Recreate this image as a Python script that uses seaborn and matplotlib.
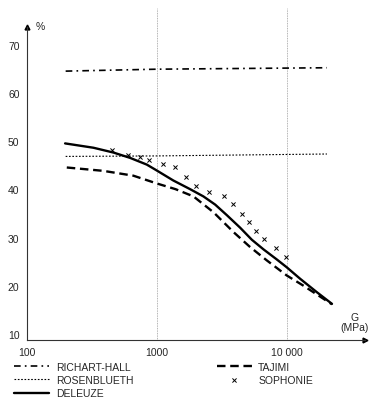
import matplotlib
matplotlib.use("Agg")
import matplotlib.pyplot as plt
import seaborn as sns
import numpy as np

sns.set_style("white")
plt.rcParams['font.family'] = ['Liberation Sans', 'DejaVu Sans']
plt.rcParams['font.size'] = 7.5

# --- data (G in MPa, value in %) ---
richart_g = [200, 1000, 20400]
richart_v = [65.8, 66.2, 66.5]

rosen_g = [200, 1000, 20400]
rosen_v = [48.1, 48.2, 48.6]

deleuze_g = [198, 327, 466, 625, 841, 1000, 1345, 1811, 2290, 2820, 3470, 4390,
             5400, 6640, 8410, 10000, 12700, 17100, 22300]
deleuze_v = [50.8, 49.9, 48.9, 47.8, 46.4, 45.2, 43.1, 41.3, 39.8, 38.1, 35.9, 33.3,
             30.8, 28.8, 26.7, 25.1, 22.7, 19.9, 17.5]

tajimi_g = [204, 390, 663, 1000, 1400, 1920, 2740, 3900, 5230, 7050, 10000, 13400, 22300]
tajimi_v = [45.8, 45.1, 44.1, 42.5, 41.3, 39.8, 36.5, 32.4, 29.3, 26.5, 23.4, 21.3, 17.4]

sophonie_g = [452, 607, 748, 880, 1120, 1380, 1690, 2020, 2540, 3270, 3900, 4520,
              5170, 5830, 6700, 8310, 9900]
sophonie_v = [49.5, 48.4, 47.9, 47.3, 46.6, 45.8, 43.75, 42.0, 40.8, 39.8, 38.2, 36.1,
              34.4, 32.7, 31.0, 29.05, 27.3]

x_ticks = [100, 1000, 10000]
x_labels = ['100', '1000', '10 000']
y_ticks = [10, 20, 30, 40, 50, 60, 70]

fig = plt.figure(figsize=(3.75, 4.02), dpi=100)
ax = fig.add_axes([26.5 / 375, 61 / 402, 338.5 / 375, 332 / 402])
ax.set_xscale('log')

# grid lines at 1000 and 10 000
for g in [1000, 10000]:
    ax.axvline(g, color='#9a9a9a', lw=0.6, ls=(0, (1, 1)), zorder=0)

sns.lineplot(x=richart_g, y=richart_v, ax=ax, color='k', lw=1.2,
             linestyle=(0, (4, 2.5, 1, 2.5)), label='RICHART-HALL')
sns.lineplot(x=rosen_g, y=rosen_v, ax=ax, color='k', lw=0.8,
             linestyle=(0, (1.5, 1.5)), label='ROSENBLUETH')
sns.lineplot(x=deleuze_g, y=deleuze_v, ax=ax, color='k', lw=1.7,
             label='DELEUZE')
sns.lineplot(x=tajimi_g, y=tajimi_v, ax=ax, color='k', lw=1.7,
             linestyle=(0, (3.6, 2)), label='TAJIMI')
sns.scatterplot(x=sophonie_g, y=sophonie_v, ax=ax, color='k', marker='x',
                s=9, linewidth=0.7, label='SOPHONIE')

ax.set_xlim(100, 40000)
ax.set_ylim(10, 78.9)

for s in ['top', 'right']:
    ax.spines[s].set_visible(False)
ax.spines['left'].set_bounds(10, 75)
ax.spines['left'].set_linewidth(0.8)
ax.spines['bottom'].set_linewidth(0.8)
ax.spines['left'].set_color('#333333')
ax.spines['bottom'].set_color('#333333')

# axis arrows
ax.plot(0, 75, '^', color='k', ms=3.5, transform=ax.get_yaxis_transform(), clip_on=False)
ax.plot(1, 0, '>', color='k', ms=3.5, transform=ax.transAxes, clip_on=False)

ax.set_xticks(x_ticks)
ax.set_xticklabels(x_labels)
ax.xaxis.set_minor_locator(matplotlib.ticker.NullLocator())
ax.tick_params(axis='x', length=0, pad=5, labelsize=7.5)
ax.set_yticks(y_ticks)
ax.set_yticklabels([str(v) for v in y_ticks])
ax.tick_params(axis='y', length=3, width=0.6, pad=2, labelsize=7.5, direction='out')
for lbl in ax.get_yticklabels():
    lbl.set_verticalalignment('bottom')
ax.set_xlabel('')
ax.set_ylabel('')

fig.text(40 / 375, 1 - 27 / 402, '%', ha='center', va='center', fontsize=7.5)
fig.text(355 / 375, 1 - 323 / 402, 'G\n(MPa)', ha='center', va='center',
         fontsize=7.5, linespacing=0.9)

handles, labels = ax.get_legend_handles_labels()
ax.get_legend().remove()
fig.legend(handles, labels, ncol=2, loc='upper left',
           bbox_to_anchor=(14 / 375, 1 - 363 / 402), frameon=False,
           borderaxespad=0, borderpad=0, handlelength=3.4, handletextpad=0.6,
           labelspacing=0.3, columnspacing=8.0, fontsize=7.5)

fig.savefig('out.png', dpi=100)
